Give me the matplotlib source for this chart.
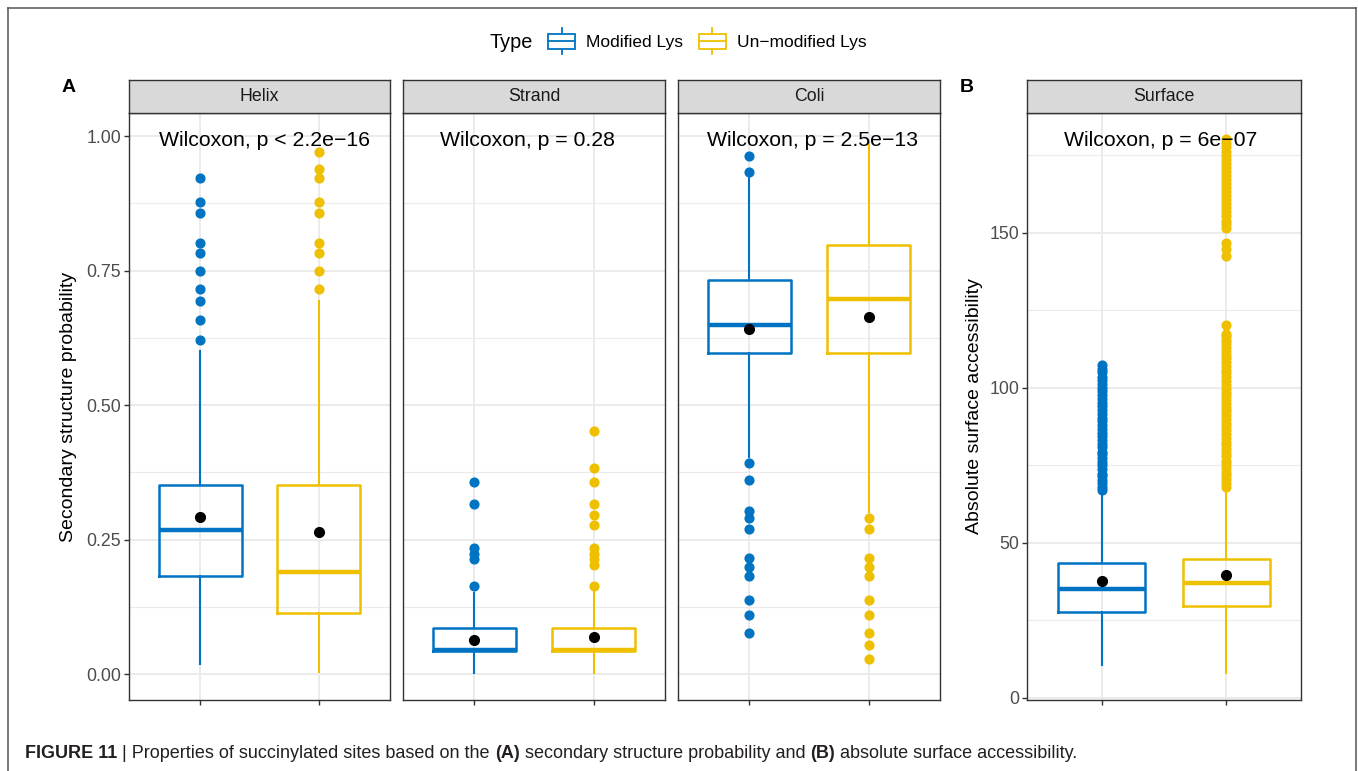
import matplotlib
matplotlib.use('Agg')
import matplotlib.pyplot as plt
from matplotlib.lines import Line2D
from matplotlib.patches import Rectangle, Patch
from matplotlib.legend_handler import HandlerBase
from matplotlib.transforms import blended_transform_factory
from matplotlib.ticker import MultipleLocator, FormatStrFormatter

plt.rcParams['font.family'] = ['Liberation Sans', 'DejaVu Sans']

# Data: box = [whisker low, Q1, median, Q3, whisker high]
groups = ['Modified Lys', 'Un\u2212modified Lys']
colors = ['#0073C2', '#EFC000']

helix_mod_box = [0.019, 0.183, 0.268, 0.352, 0.600]
helix_mod_mean = 0.292
helix_mod_out = [0.622, 0.659, 0.693, 0.715, 0.750, 0.782, 0.801, 0.858, 0.877, 0.922]
helix_unmod_box = [0.004, 0.114, 0.190, 0.352, 0.693]
helix_unmod_mean = 0.264
helix_unmod_out = [0.716, 0.750, 0.782, 0.801, 0.858, 0.877, 0.922, 0.938, 0.970]

strand_mod_box = [0.002, 0.043, 0.045, 0.085, 0.151]
strand_mod_mean = 0.064
strand_mod_out = [0.163, 0.214, 0.224, 0.234, 0.316, 0.358]
strand_unmod_box = [0.002, 0.043, 0.045, 0.085, 0.152]
strand_unmod_mean = 0.069
strand_unmod_out = [0.163, 0.203, 0.214, 0.224, 0.235, 0.278, 0.295, 0.316, 0.358, 0.384, 0.452]

coli_mod_box = [0.404, 0.597, 0.649, 0.732, 0.925]
coli_mod_mean = 0.642
coli_mod_out = [0.076, 0.110, 0.138, 0.183, 0.199, 0.215, 0.269, 0.290, 0.304, 0.361, 0.393,
                0.934, 0.964]
coli_unmod_box = [0.301, 0.597, 0.698, 0.798, 0.990]
coli_unmod_mean = 0.664
coli_unmod_out = [0.028, 0.055, 0.076, 0.110, 0.138, 0.183, 0.199, 0.215, 0.269, 0.290]

surf_mod_box = [10.5, 27.7, 35.1, 43.4, 66.3]
surf_mod_mean = 37.7
surf_mod_out = [67.0, 68.1, 69.3, 70.2, 71.5, 72.4, 73.8, 75.0, 76.1, 77.3, 78.6, 79.5, 80.8,
                82.0, 83.2, 84.5, 85.6, 86.9, 88.0, 89.3, 90.4, 91.7, 92.8, 94.1, 95.3, 96.4,
                97.8, 99.0, 100.1, 101.4, 102.6, 103.7, 105.0, 106.2, 107.3]
surf_unmod_box = [8.2, 29.6, 37.0, 44.9, 67.6]
surf_unmod_mean = 39.8
surf_unmod_out = [68.2, 69.4, 70.5, 71.8, 73.0, 74.1, 75.4, 76.6, 77.9, 79.0, 80.2, 81.5, 82.7,
                  83.9, 85.2, 86.3, 87.6, 88.8, 90.0, 91.3, 92.5, 93.6, 94.9, 96.1, 97.4, 98.5,
                  99.8, 101.0, 102.2, 103.5, 104.7, 105.8, 107.1, 108.3, 109.6, 110.7, 112.0,
                  113.2, 114.4, 115.6, 116.9, 117.4, 120.2, 142.5, 144.7, 146.7, 151.5, 152.8,
                  154.0, 155.4, 156.7, 158.1, 159.3, 160.6, 162.0, 163.2, 164.5, 165.9, 167.1,
                  168.4, 169.8, 171.0, 172.3, 173.7, 174.9, 176.2, 177.6, 178.9, 180.2]

panel_names = ['Helix', 'Strand', 'Coli', 'Surface']
pvalue_labels = ['Wilcoxon, p < 2.2e\u221216', 'Wilcoxon, p = 0.28',
                 'Wilcoxon, p = 2.5e\u221213', 'Wilcoxon, p = 6e\u221207']

W, H = 1358, 771
fig = plt.figure(figsize=(W / 100, H / 100), dpi=100)


def stats(box, mean, out):
    return dict(whislo=box[0], q1=box[1], med=box[2], q3=box[3], whishi=box[4],
                mean=mean, fliers=out)


def add_panel(x0, x1, name, label, label_x, data, ylim, major, minor, show_y):
    ax = fig.add_axes([x0 / W, 1 - 700 / H, (x1 - x0) / W, (700 - 113) / H])
    for i, (st, c) in enumerate(zip(data, colors)):
        ax.bxp([st], positions=[i + 1], widths=0.7, showmeans=True, showcaps=False,
               manage_ticks=False,
               boxprops=dict(color=c, linewidth=1.8),
               whiskerprops=dict(color=c, linewidth=1.5),
               medianprops=dict(color=c, linewidth=3.2, solid_capstyle='butt'),
               flierprops=dict(marker='o', markerfacecolor=c, markeredgecolor=c,
                               markersize=6.3, linestyle='none'),
               meanprops=dict(marker='o', markerfacecolor='black', markeredgecolor='black',
                              markersize=7.0))
    ax.set_xlim(0.4, 2.6)
    ax.set_ylim(*ylim)
    ax.set_xticks([1, 2])
    ax.set_xticklabels(['', ''])
    ax.yaxis.set_major_locator(MultipleLocator(major))
    ax.yaxis.set_minor_locator(MultipleLocator(minor))
    ax.set_axisbelow(True)
    ax.grid(which='major', color='#EBEBEB', linewidth=1.4)
    ax.grid(which='minor', axis='y', color='#EBEBEB', linewidth=0.8)
    for s in ax.spines.values():
        s.set_color('#333333')
        s.set_linewidth(1.0)
    ax.tick_params(which='major', length=3.5, width=1.0, color='#333333',
                   labelsize=12.8, labelcolor='#4D4D4D', pad=2)
    ax.tick_params(which='minor', length=0)
    if not show_y:
        ax.tick_params(axis='y', length=0, labelleft=False)
    tr = blended_transform_factory(ax.transData, ax.transAxes)
    ax.text(label_x, 0.954, label, transform=tr, ha='left', va='center', fontsize=15.3,
            color='black', zorder=5)
    # facet strip
    sx = fig.add_axes([x0 / W, 1 - 113 / H, (x1 - x0) / W, 33 / H])
    sx.set_facecolor('#D9D9D9')
    sx.set_xticks([])
    sx.set_yticks([])
    for s in sx.spines.values():
        s.set_color('#333333')
        s.set_linewidth(1.0)
    sx.text(0.5, 0.5, name, transform=sx.transAxes, ha='center', va='center',
            fontsize=12.8, color='#1A1A1A')
    return ax


ylim_a = (-0.048, 1.043)
ax1 = add_panel(129, 390, panel_names[0], pvalue_labels[0], 0.65,
                [stats(helix_mod_box, helix_mod_mean, helix_mod_out),
                 stats(helix_unmod_box, helix_unmod_mean, helix_unmod_out)],
                ylim_a, 0.25, 0.125, True)
ax1.yaxis.set_major_formatter(FormatStrFormatter('%.2f'))
ax1.set_ylabel('Secondary structure probability', fontsize=14, color='black', labelpad=7)
add_panel(403, 665, panel_names[1], pvalue_labels[1], 0.71,
          [stats(strand_mod_box, strand_mod_mean, strand_mod_out),
           stats(strand_unmod_box, strand_unmod_mean, strand_unmod_out)],
          ylim_a, 0.25, 0.125, False)
add_panel(678, 940, panel_names[2], pvalue_labels[2], 0.64,
          [stats(coli_mod_box, coli_mod_mean, coli_mod_out),
           stats(coli_unmod_box, coli_unmod_mean, coli_unmod_out)],
          ylim_a, 0.25, 0.125, False)
ax4 = add_panel(1027, 1301, panel_names[3], pvalue_labels[3], 0.70,
                [stats(surf_mod_box, surf_mod_mean, surf_mod_out),
                 stats(surf_unmod_box, surf_unmod_mean, surf_unmod_out)],
                (-0.65, 188.7), 50, 25, True)
ax4.set_ylabel('Absolute surface accessibility', fontsize=14, color='black', labelpad=5)

fig.text(62 / W, 1 - 87 / H, 'A', fontsize=14, fontweight='bold', va='center', ha='left')
fig.text(960 / W, 1 - 87 / H, 'B', fontsize=14, fontweight='bold', va='center', ha='left')


# legend with boxplot-shaped keys
class BoxKey(HandlerBase):
    def create_artists(self, legend, orig_handle, xdescent, ydescent, width, height,
                       fontsize, trans):
        c = orig_handle.get_edgecolor()
        cx = -xdescent + width / 2
        cy = -ydescent + height / 2
        wl = Line2D([cx, cx], [cy - 9.5, cy + 9.5], color=c, linewidth=1.3, transform=trans)
        bx = Rectangle((-xdescent, cy - 5.4), width, 10.8, facecolor='white', edgecolor=c,
                       linewidth=1.3, transform=trans)
        md = Line2D([-xdescent, -xdescent + width], [cy, cy], color=c, linewidth=1.3,
                    transform=trans)
        return [wl, bx, md]


handles = [Patch(edgecolor=c, facecolor='white') for c in colors]
fig.text(490 / W, 1 - 42 / H, 'Type', fontsize=14.3, va='center', ha='left')
fig.legend(handles, groups, handler_map={Patch: BoxKey()}, loc='center left',
           bbox_to_anchor=(539 / W, 1 - 42 / H), ncol=2, frameon=False, borderpad=0,
           fontsize=12.5, handlelength=1.6, handleheight=0.9, handletextpad=0.6,
           columnspacing=0.9)

# outer frame (open at the bottom)
frame_kw = dict(color='#555555', linewidth=1.1, transform=fig.transFigure)
fig.add_artist(Line2D([8 / W, 8 / W], [0, 1 - 8 / H], **frame_kw))
fig.add_artist(Line2D([1356 / W, 1356 / W], [0, 1 - 8 / H], **frame_kw))
fig.add_artist(Line2D([8 / W, 1356 / W], [1 - 8 / H, 1 - 8 / H], **frame_kw))

# caption with mixed weights
caption = [('FIGURE 11', 'bold'), (' | Properties of succinylated sites based on the ', 'normal'),
           ('(A)', 'bold'), (' secondary structure probability and ', 'normal'),
           ('(B)', 'bold'), (' absolute surface accessibility.', 'normal')]
renderer = fig.canvas.get_renderer()
xpos = 25 / W
for txt, wt in caption:
    t = fig.text(xpos, 1 - 753 / H, txt, fontsize=13, fontweight=wt, color='#231F20',
                 va='center', ha='left')
    bb = t.get_window_extent(renderer=renderer)
    xpos = bb.x1 / W

fig.savefig('out.png', dpi=100)
